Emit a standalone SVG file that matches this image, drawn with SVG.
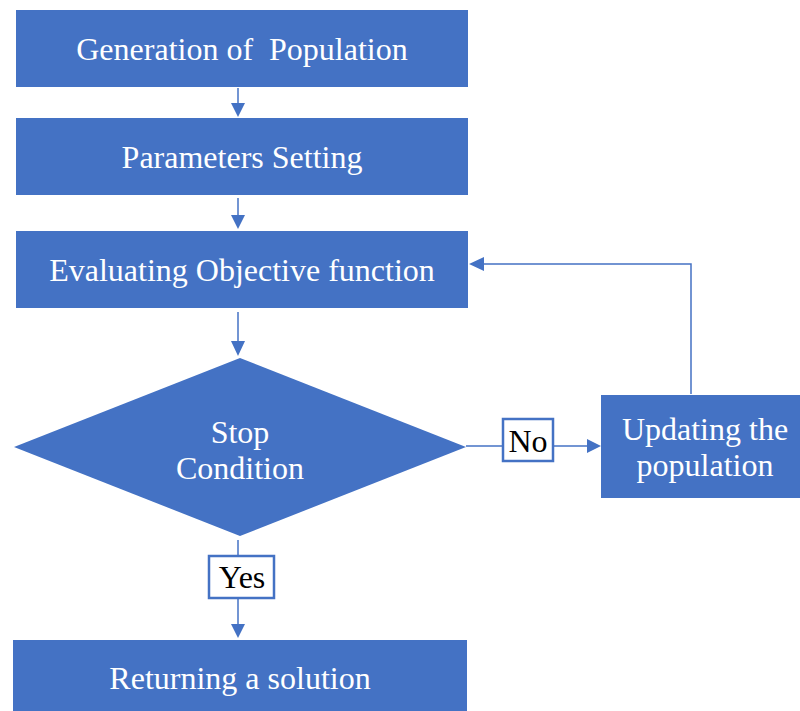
<svg xmlns="http://www.w3.org/2000/svg" width="800" height="711" viewBox="0 0 800 711">
<style>
.n{fill:#4472C4;}
.lb{fill:#fff;stroke:#4472C4;stroke-width:2.5;}
.c{fill:none;stroke:#4472C4;stroke-width:1.5;}
</style>
<rect width="800" height="711" fill="#fff"/>
<g id="connectors">
<path class="c" d="M238,88 V104"/><path d="M231,103 L245,103 L238,117 Z" fill="#4472C4"/>
<path class="c" d="M238,198 V216"/><path d="M231,215 L245,215 L238,229 Z" fill="#4472C4"/>
<path class="c" d="M238,312 V342"/><path d="M231,341 L245,341 L238,356 Z" fill="#4472C4"/>
<path class="c" d="M466,446 H502"/>
<path class="c" d="M554,446 H588"/><path d="M587,439 L601,446 L587,453 Z" fill="#4472C4"/>
<path class="c" d="M691,394 V264 H482"/><path d="M484,257 L484,271 L469,264 Z" fill="#4472C4"/>
<path class="c" d="M238,540 V555"/>
<path class="c" d="M238,599 V625"/><path d="M231,624 L245,624 L238,638 Z" fill="#4472C4"/>
</g>
<g id="n1"><rect class="n" x="16" y="10" width="452" height="77"/><text x="242" y="60" fill="#fff" font-size="32" text-anchor="middle" font-family="Liberation Serif" style="font-family:'Liberation Serif' !important" xml:space="preserve">Generation of  Population</text></g>
<g id="n2"><rect class="n" x="16" y="118" width="452" height="77"/><text x="242" y="168" fill="#fff" font-size="32" text-anchor="middle" font-family="Liberation Serif" style="font-family:'Liberation Serif' !important">Parameters Setting</text></g>
<g id="n3"><rect class="n" x="16" y="231" width="452" height="77"/><text x="242" y="281" fill="#fff" font-size="32" text-anchor="middle" font-family="Liberation Serif" style="font-family:'Liberation Serif' !important">Evaluating Objective function</text></g>
<g id="n4"><polygon class="n" points="240,358 466,447 240,536 14,447"/><text x="240" y="443" fill="#fff" font-size="32" text-anchor="middle" font-family="Liberation Serif" style="font-family:'Liberation Serif' !important">Stop</text><text x="240" y="479" fill="#fff" font-size="32" text-anchor="middle" font-family="Liberation Serif" style="font-family:'Liberation Serif' !important">Condition</text></g>
<g id="n5"><rect class="n" x="601" y="395" width="199" height="103"/><text x="705" y="440" fill="#fff" font-size="32" text-anchor="middle" font-family="Liberation Serif" style="font-family:'Liberation Serif' !important">Updating the</text><text x="705" y="476" fill="#fff" font-size="32" text-anchor="middle" font-family="Liberation Serif" style="font-family:'Liberation Serif' !important">population</text></g>
<g id="n6"><rect class="n" x="13" y="640" width="454" height="71"/><text x="240" y="689" fill="#fff" font-size="32" text-anchor="middle" font-family="Liberation Serif" style="font-family:'Liberation Serif' !important">Returning a solution</text></g>
<g id="labelNo"><rect class="lb" x="503" y="419" width="50" height="42"/><text x="528" y="452" fill="#000" font-size="32" text-anchor="middle" font-family="Liberation Serif" style="font-family:'Liberation Serif' !important">No</text></g>
<g id="labelYes"><rect class="lb" x="209" y="556" width="65" height="42"/><text x="242" y="588" fill="#000" font-size="32" text-anchor="middle" font-family="Liberation Serif" style="font-family:'Liberation Serif' !important">Yes</text></g>
</svg>
